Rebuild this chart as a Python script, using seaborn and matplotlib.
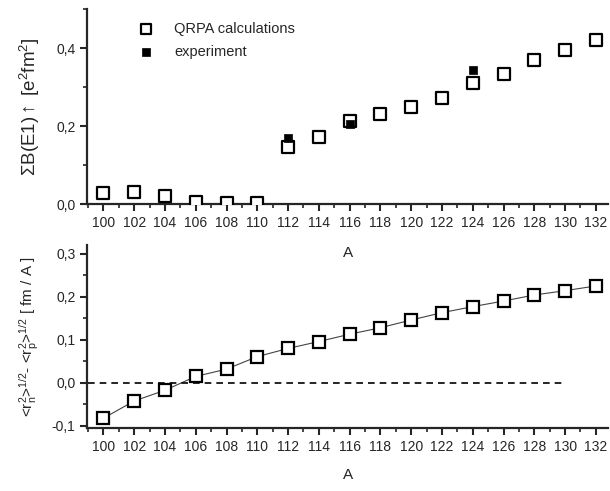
import matplotlib
matplotlib.use("Agg")
import matplotlib.pyplot as plt
import numpy as np
import pandas as pd
import seaborn as sns
from matplotlib.ticker import MultipleLocator, FuncFormatter

# mass number A
mass_a = [100, 102, 104, 106, 108, 110, 112, 114, 116, 118, 120, 122, 124, 126, 128, 130, 132]

# summed B(E1) strength, QRPA
be1_qrpa = [0.029, 0.032, 0.020, 0.004, 0.003, 0.003, 0.146, 0.172, 0.212, 0.230,
            0.249, 0.271, 0.311, 0.333, 0.370, 0.395, 0.421]
# experiment
exp_a = [112, 116, 124]
be1_exp = [0.169, 0.205, 0.345]

# neutron skin per nucleon
skin = [-0.082, -0.042, -0.017, 0.015, 0.032, 0.061, 0.080, 0.096, 0.113, 0.128,
        0.146, 0.163, 0.177, 0.190, 0.204, 0.214, 0.225]

qrpa_df = pd.DataFrame({"A": mass_a, "BE1": be1_qrpa, "skin": skin})
exp_df = pd.DataFrame({"A": exp_a, "BE1": be1_exp})

sns.set_style("ticks")
plt.rcParams["font.family"] = ["Liberation Sans", "DejaVu Sans"]
plt.rcParams["mathtext.fontset"] = "custom"
plt.rcParams["mathtext.rm"] = "Liberation Sans"
plt.rcParams["mathtext.it"] = "Liberation Sans"

fig = plt.figure(figsize=(6.1, 4.91), dpi=100)
ax1 = fig.add_axes([0.143, 0.5845, 0.854, 0.397])
ax2 = fig.add_axes([0.143, 0.128, 0.854, 0.373])
ax2.patch.set_visible(False)

comma = FuncFormatter(lambda v, p: f"{v:.1f}".replace(".", ",").replace("-0,0", "0,0"))

# top panel
sns.scatterplot(data=qrpa_df, x="A", y="BE1", ax=ax1, marker="s", s=70,
                facecolor="white", edgecolor="black", linewidth=1.6,
                label="QRPA calculations", zorder=3)
sns.scatterplot(data=exp_df, x="A", y="BE1", ax=ax1, marker="s", s=40,
                color="black", edgecolor="black", linewidth=0.5,
                label="experiment", zorder=4)
ax1.set_ylim(0, 0.5)
ax1.yaxis.set_major_locator(MultipleLocator(0.2))
ax1.yaxis.set_minor_locator(MultipleLocator(0.1))
ax1.set_ylabel(r"$\Sigma$B(E1)$\uparrow$ [e$^2$fm$^2$]", fontsize=13.5, labelpad=10)
ax1.set_xlabel("A", fontsize=11, labelpad=12)
ax1.legend(loc="upper left", bbox_to_anchor=(0.06, 1.0), frameon=False,
           fontsize=10.5, handletextpad=0.9, labelspacing=0.6, markerscale=0.9)

# bottom panel
sns.lineplot(data=qrpa_df, x="A", y="skin", ax=ax2, color="#444444", linewidth=0.8,
             marker="s", markersize=9, markerfacecolor="white",
             markeredgecolor="black", markeredgewidth=1.6)
ax2.plot([99, 130], [0, 0], ls="--", color="black", lw=1.2, dashes=(4, 3))
ax2.set_ylim(-0.105, 0.32)
ax2.yaxis.set_major_locator(MultipleLocator(0.1))
ax2.yaxis.set_minor_locator(MultipleLocator(0.05))
ax2.set_ylabel(r"<r$_n^2$>$^{1/2}$- <r$_p^2$>$^{1/2}$ [ fm / A ]", fontsize=11, labelpad=8)
ax2.set_xlabel("A", fontsize=11, labelpad=10)

for ax in (ax1, ax2):
    ax.set_xlim(98.95, 132.8)
    ax.xaxis.set_major_locator(MultipleLocator(2))
    ax.xaxis.set_minor_locator(MultipleLocator(1))
    ax.yaxis.set_major_formatter(comma)
    ax.tick_params(which="major", direction="out", length=5, width=1.5, labelsize=10)
    ax.tick_params(which="minor", direction="out", length=3, width=1.2)
    for s in ("left", "bottom"):
        ax.spines[s].set_linewidth(1.6)
    sns.despine(ax=ax)

fig.savefig("out.png", dpi=100)
